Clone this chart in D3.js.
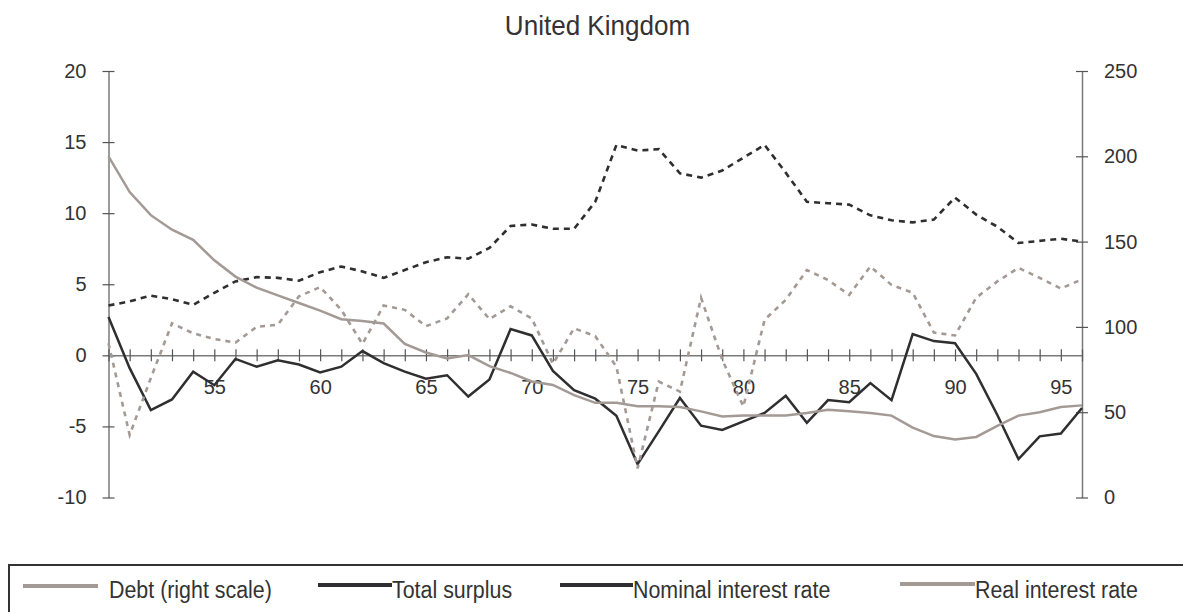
<!DOCTYPE html>
<html>
<head>
<meta charset="utf-8">
<script src="https://cdn.jsdelivr.net/npm/d3@7"></script>
<style>
  html, body { margin: 0; padding: 0; background: #fff; }
  svg { display: block; font-family: "Liberation Sans", Arial, sans-serif; }
</style>
</head>
<body>
<svg id="chart" width="1183" height="612"></svg>
<script>
// ---- data ----
const years = d3.range(50, 97);
const debt = [200, 179, 165.5, 157, 151, 139, 129.5, 123, 118.5, 114, 109.5, 104.5, 103.5, 102, 90, 85, 81.5, 83.5, 77, 73,
  68, 66, 60, 55.5, 55.5, 53.5, 53.5, 53, 50.5, 47.5, 48, 48, 48, 49.5, 51.5, 50.5, 49.5, 48, 41, 36,
  34, 35.5, 42, 48, 50, 53, 54];
const totalSurplus = [2.7, -0.9, -3.85, -3.1, -1.15, -2.1, -0.25, -0.8, -0.35, -0.65, -1.2, -0.8, 0.3, -0.55, -1.15, -1.65, -1.4, -2.9, -1.7, 1.85,
  1.4, -1.1, -2.45, -3.05, -4.25, -7.65, -5.35, -3.0, -4.95, -5.25, -4.65, -4.05, -2.85, -4.75, -3.15, -3.3, -1.95, -3.15, 1.5, 1.0,
  0.85, -1.3, -4.2, -7.3, -5.7, -5.5, -3.7];
const nominalRate = [3.5, 3.8, 4.2, 3.95, 3.55, 4.4, 5.2, 5.5, 5.45, 5.25, 5.85, 6.25, 5.9, 5.45, 6.0, 6.55, 6.9, 6.8, 7.55, 9.1,
  9.2, 8.9, 8.9, 10.8, 14.8, 14.4, 14.5, 12.8, 12.5, 13.0, 13.9, 14.8, 12.85, 10.8, 10.7, 10.6, 9.85, 9.5, 9.35, 9.55,
  11.1, 9.9, 9.05, 7.9, 8.05, 8.2, 8.0];
const realRate = [0.85, -5.6, -1.6, 2.25, 1.55, 1.15, 0.9, 2.0, 2.15, 4.15, 4.8, 3.2, 0.8, 3.5, 3.2, 2.05, 2.6, 4.3, 2.55, 3.45,
  2.6, -0.6, 1.9, 1.35, -0.8, -7.95, -1.85, -2.55, 4.05, -0.3, -3.6, 2.5, 3.9, 6.0, 5.3, 4.25, 6.25, 4.95, 4.4, 1.6,
  1.4, 4.05, 5.2, 6.15, 5.45, 4.7, 5.35];
const leftTicks = [-10, -5, 0, 5, 10, 15, 20];
const rightTicks = [0, 50, 100, 150, 200, 250];
const xLabelYears = [55, 60, 65, 70, 75, 80, 85, 90, 95];
const title = "United Kingdom";
const legendLabels = ["Debt (right scale)", "Total surplus", "Nominal interest rate", "Real interest rate"];

// ---- style ----
const DARK = "#2f2f31";
const GRAY = "#a39a96";
const AXIS = "#7a7a7a";

const svg = d3.select("#chart");
const x = d3.scaleLinear().domain([50, 96]).range([108.5, 1082]);
const yL = d3.scaleLinear().domain([-10, 20]).range([497.5, 71]);
const yR = d3.scaleLinear().domain([0, 250]).range([497.5, 71]);

function squeeze(sel, f) {
  sel.each(function () {
    const w = this.getComputedTextLength();
    d3.select(this).attr("textLength", w * f).attr("lengthAdjust", "spacingAndGlyphs");
  });
}

// title
svg.append("text").attr("x", 597.5).attr("y", 35).attr("text-anchor", "middle")
  .attr("font-size", 28).attr("fill", "#333").text(title).call(squeeze, 0.93);

const plain = d => String(d);

// left axis
const gL = svg.append("g").attr("transform", `translate(${x(50)},0)`)
  .call(d3.axisLeft(yL).tickValues(leftTicks).tickFormat(plain).tickSizeOuter(0).tickSizeInner(6).tickPadding(16));
gL.selectAll(".tick line").attr("x1", 6).attr("x2", -6);
// right axis
const gR = svg.append("g").attr("transform", `translate(${x(96)},0)`)
  .call(d3.axisRight(yR).tickValues(rightTicks).tickFormat(plain).tickSizeOuter(0).tickSizeInner(6).tickPadding(16));
gR.selectAll(".tick line").attr("x1", -6).attr("x2", 6);
// x axis at zero
const gX = svg.append("g").attr("transform", `translate(0,${yL(0)})`)
  .call(d3.axisBottom(x).tickValues(years).tickSizeOuter(0).tickSizeInner(6)
    .tickFormat(d => xLabelYears.includes(d) ? String(d) : ""));
gX.selectAll(".tick line").attr("y1", -6).attr("y2", 6);
gX.selectAll(".tick text").attr("y", 38.5).attr("dy", 0);

[gL, gR, gX].forEach(g => {
  g.select(".domain").attr("stroke", AXIS).attr("stroke-width", 1.5);
  g.selectAll(".tick line").attr("stroke", "#555").attr("stroke-width", 1.2);
  g.selectAll(".tick text").attr("font-size", 20).attr("fill", "#333")
    .attr("font-family", "Liberation Sans, Arial, sans-serif");
});

// lines
const lineL = d3.line().x((d, i) => x(years[i])).y(d => yL(d));
const lineR = d3.line().x((d, i) => x(years[i])).y(d => yR(d));

svg.append("path").datum(totalSurplus).attr("d", lineL)
  .attr("fill", "none").attr("stroke", DARK).attr("stroke-width", 2.5).attr("stroke-linejoin", "miter");
svg.append("path").datum(nominalRate).attr("d", lineL)
  .attr("fill", "none").attr("stroke", DARK).attr("stroke-width", 2.6).attr("stroke-dasharray", "6,5");
svg.append("path").datum(realRate).attr("d", lineL)
  .attr("fill", "none").attr("stroke", GRAY).attr("stroke-width", 2.6).attr("stroke-dasharray", "5,5");
svg.append("path").datum(debt).attr("d", lineR)
  .attr("fill", "none").attr("stroke", GRAY).attr("stroke-width", 2.5);

// legend
svg.append("rect").attr("x", 9).attr("y", 565).attr("width", 1200).attr("height", 80)
  .attr("fill", "none").attr("stroke", "#333").attr("stroke-width", 2);
const legendItems = [
  { label: legendLabels[0], color: GRAY, x0: 23, x1: 98, tx: 109, ly: 586 },
  { label: legendLabels[1], color: DARK, x0: 318, x1: 392, tx: 392, ly: 585 },
  { label: legendLabels[2], color: DARK, x0: 560, x1: 633, tx: 633, ly: 585 },
  { label: legendLabels[3], color: GRAY, x0: 900, x1: 975, tx: 975, ly: 584 }
];
const lg = svg.append("g").selectAll("g").data(legendItems).join("g");
lg.append("line").attr("x1", d => d.x0).attr("x2", d => d.x1).attr("y1", d => d.ly).attr("y2", d => d.ly)
  .attr("stroke", d => d.color).attr("stroke-width", 4);
lg.append("text").attr("x", d => d.tx).attr("y", 598).attr("font-size", 23).attr("fill", "#333")
  .text(d => d.label).call(squeeze, 0.93);
</script>
</body>
</html>
